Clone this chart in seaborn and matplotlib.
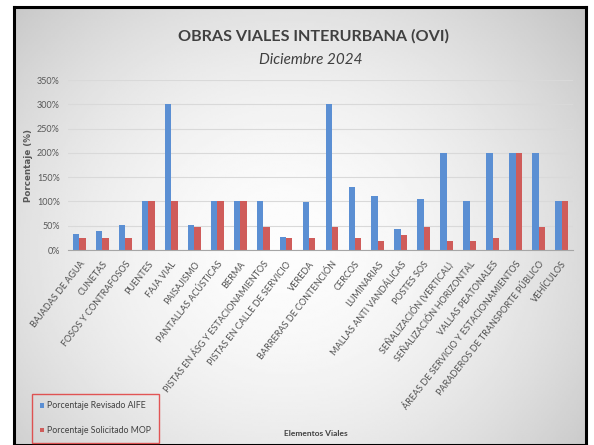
import numpy as np
import pandas as pd
import matplotlib
matplotlib.use("Agg")
import matplotlib.pyplot as plt
import seaborn as sns
from matplotlib.patches import Patch

categories = ["BAJADAS DE AGUA", "CUNETAS", "FOSOS Y CONTRAFOSOS", "PUENTES", "FAJA VIAL",
              "PAISAJISMO", "PANTALLAS ACÚSTICAS", "BERMA", "PISTAS EN ÁSG Y ESTACIONAMIENTOS",
              "PISTAS EN CALLE DE SERVICIO", "VEREDA", "BARRERAS DE CONTENCIÓN", "CERCOS",
              "LUMINARIAS", "MALLAS ANTI VANDÁLICAS", "POSTES SOS", "SEÑALIZACIÓN (VERTICAL)",
              "SEÑALIZACIÓN HORIZONTAL", "VALLAS PEATONALES", "ÁREAS DE SERVICIO Y ESTACIONAMIENTOS",
              "PARADEROS DE TRANSPORTE PÚBLICO", "VEHÍCULOS"]
revisado_aife = [32, 39, 51, 100, 300, 52, 100, 100, 100, 27, 98, 300, 130, 112, 43, 105,
                 199, 100, 200, 200, 200, 100]
solicitado_mop = [25, 25, 25, 100, 100, 48, 100, 100, 48, 25, 25, 48, 25, 19, 30, 48,
                  19, 19, 25, 200, 48, 100]
series_names = ["Porcentaje Revisado AIFE", "Porcentaje Solicitado MOP"]
y_ticks = [0, 50, 100, 150, 200, 250, 300, 350]

FAM = ["Lato", "DejaVu Sans"]

df = pd.DataFrame({
    "cat": categories * 2,
    "val": revisado_aife + solicitado_mop,
    "serie": [series_names[0]] * len(categories) + [series_names[1]] * len(categories),
})

W, H = 594, 445
fig = plt.figure(figsize=(W / 100, H / 100), dpi=100)
fig.patch.set_facecolor("white")

bg = fig.add_axes([14 / W, 0, (586 - 14) / W, (445 - 7) / H], zorder=-10)
yy, xx = np.mgrid[-1:1:200j, -1:1:300j]
r = np.sqrt(((xx + 0.05) * 0.9) ** 2 + ((yy - 0.1) * 0.75) ** 2)
img = 0.99 - 0.15 * np.clip(r, 0, 1.3) ** 1.8
bg.imshow(img, cmap="gray", vmin=0, vmax=1, aspect="auto", extent=[0, 1, 0, 1])
bg.set_xlim(0, 1); bg.set_ylim(0, 1)
bg.set_xticks([]); bg.set_yticks([])
for s in bg.spines.values():
    s.set_edgecolor("black")
    s.set_linewidth(2.2)

ax = fig.add_axes([68 / W, (H - 250) / H, (573 - 68) / W, 170 / H])
ax.patch.set_alpha(0)
sns.barplot(data=df, x="cat", y="val", hue="serie", ax=ax,
            palette=["#5B8FD3", "#CF5C5A"], width=0.56, gap=0.0,
            saturation=1, legend=False, edgecolor="none")
ax.set_ylim(0, 350)
ax.set_xlim(-0.5, len(categories) - 0.5)
ax.set_yticks(y_ticks)
ax.set_yticklabels([f"{v}%" for v in y_ticks], fontsize=6.5, color="#595959", family=FAM)
ax.yaxis.grid(True, color="#d9d9d9", linewidth=0.8)
ax.set_axisbelow(True)
ax.tick_params(axis="both", length=0)
ax.tick_params(axis="y", pad=6)
for s in ["top", "right", "left"]:
    ax.spines[s].set_visible(False)
ax.spines["bottom"].set_color("#a6a6a6")
ax.set_xticks(range(len(categories)))
ax.set_xticklabels(categories, rotation=52, ha="right", rotation_mode="anchor",
                   fontsize=6.5, color="#505050", family=FAM)
ax.tick_params(axis="x", pad=7)
ax.set_xlabel("")
ax.set_ylabel("Porcentaje (%)", fontsize=6.3, fontweight="bold", color="#595959", labelpad=3,
              family="DejaVu Sans")

fig.text(313 / W, 1 - 36 / H, "OBRAS VIALES INTERURBANA (OVI)", ha="center", va="center",
         fontsize=11.6, fontweight="bold", color="#404040", family=FAM)
fig.text(311 / W, 1 - 60 / H, "Diciembre 2024", ha="center", va="center",
         fontsize=11, style="italic", color="#404040", family=FAM)
fig.text(316 / W, 1 - 434 / H, "Elementos Viales", ha="center", va="center",
         fontsize=6, fontweight="bold", color="#404040", family=FAM)

handles = [Patch(facecolor="#5B8FD3"), Patch(facecolor="#CF5C5A")]
leg = fig.legend(handles, series_names, loc="lower left",
                 bbox_to_anchor=(32 / W, (H - 443) / H),
                 prop={"family": FAM, "size": 6.3},
                 frameon=True, handlelength=0.45, handleheight=0.45, handletextpad=0.4,
                 labelspacing=1.8, borderpad=0.9, borderaxespad=0, fancybox=False)
leg.get_frame().set_edgecolor("#e03030")
leg.get_frame().set_linewidth(1.0)
leg.get_frame().set_facecolor("none")
for t in leg.get_texts():
    t.set_color("#404040")

fig.savefig("out.png", dpi=100)
